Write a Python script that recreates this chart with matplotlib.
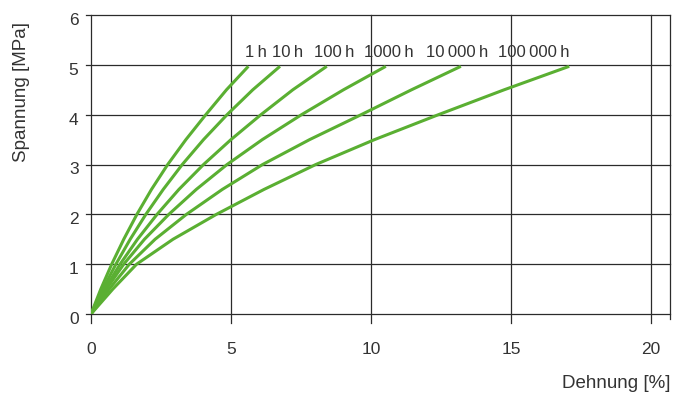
import matplotlib.pyplot as plt
from matplotlib.transforms import offset_copy

plt.rcParams['font.family'] = ['Liberation Sans', 'DejaVu Sans']

# Stress levels [MPa] and strain [%]
stress = [0, 0.5, 1, 1.5, 2, 2.5, 3, 3.5, 4, 4.5, 4.97]
strain_1h = [0, 0.35, 0.74, 1.17, 1.64, 2.16, 2.74, 3.39, 4.10, 4.84, 5.62]
strain_10h = [0, 0.42, 0.89, 1.40, 1.96, 2.58, 3.26, 4.02, 4.86, 5.78, 6.75]
strain_100h = [0, 0.49, 1.04, 1.66, 2.36, 3.14, 4.02, 5.00, 6.07, 7.21, 8.42]
strain_1000h = [0, 0.55, 1.17, 1.91, 2.78, 3.76, 4.86, 6.12, 7.52, 9.02, 10.53]
strain_10000h = [0, 0.65, 1.37, 2.29, 3.41, 4.69, 6.13, 7.81, 9.65, 11.45, 13.21]
strain_100000h = [0, 0.78, 1.63, 2.93, 4.48, 6.18, 8.03, 10.13, 12.41, 14.76, 17.08]

curve_labels = ['1\u2009h', '10\u2009h', '100\u2009h', '1000\u2009h',
                '10\u2009000\u2009h', '100\u2009000\u2009h']
x_ticks = [0, 5, 10, 15, 20]
y_ticks = [0, 1, 2, 3, 4, 5, 6]

# label placement (left edge of each curve label)
label_x = [5.5, 6.45, 7.95, 9.75, 11.95, 14.55]
label_y = 5.24

green = '#5aaf32'
grid_c = '#2b2b2b'
text_c = '#333333'
x_max = 20.68

fig = plt.figure(figsize=(6.82, 3.97), dpi=100)
ax = fig.add_axes([91 / 682, 83 / 397, 579 / 682, 299 / 397])
ax.set_xlim(0, x_max)
ax.set_ylim(0, 6)
for s in ax.spines.values():
    s.set_visible(False)

# grid lines, sticking out a bit past the axes like the original
for y in y_ticks:
    ax.plot([-0.18, x_max], [y, y], color=grid_c, lw=0.9, clip_on=False, zorder=1)
for x in x_ticks:
    ax.plot([x, x], [-0.18, 6], color=grid_c, lw=0.9, clip_on=False, zorder=1)
ax.plot([x_max, x_max], [-0.1, 6], color=grid_c, lw=0.9, clip_on=False, zorder=1)

series = [strain_1h, strain_10h, strain_100h, strain_1000h,
          strain_10000h, strain_100000h]
for strain in series:
    ax.plot(strain, stress, color=green, lw=2.2, solid_capstyle='butt',
            solid_joinstyle='round', zorder=3)

for lx, lab in zip(label_x, curve_labels):
    ax.text(lx, label_y, lab, fontsize=12, color=text_c,
            ha='left', va='center')

ax.set_xticks(x_ticks)
ax.set_yticks(y_ticks)
ax.tick_params(axis='x', length=0, pad=20, labelsize=12.5, labelcolor=text_c)
ax.tick_params(axis='y', length=0, pad=9, labelsize=12.5, labelcolor=text_c)
for t in ax.get_yticklabels():
    t.set_transform(offset_copy(t.get_transform(), fig=fig, y=-4, units='dots'))

fig.text(22 / 682, 1 - 92 / 397, 'Spannung [MPa]', rotation=90, fontsize=13.5,
         color=text_c, ha='center', va='center')
fig.text(670 / 682, 1 - 383 / 397, 'Dehnung [%]', fontsize=13.5,
         color=text_c, ha='right', va='center')

fig.savefig('out.png', dpi=100)
